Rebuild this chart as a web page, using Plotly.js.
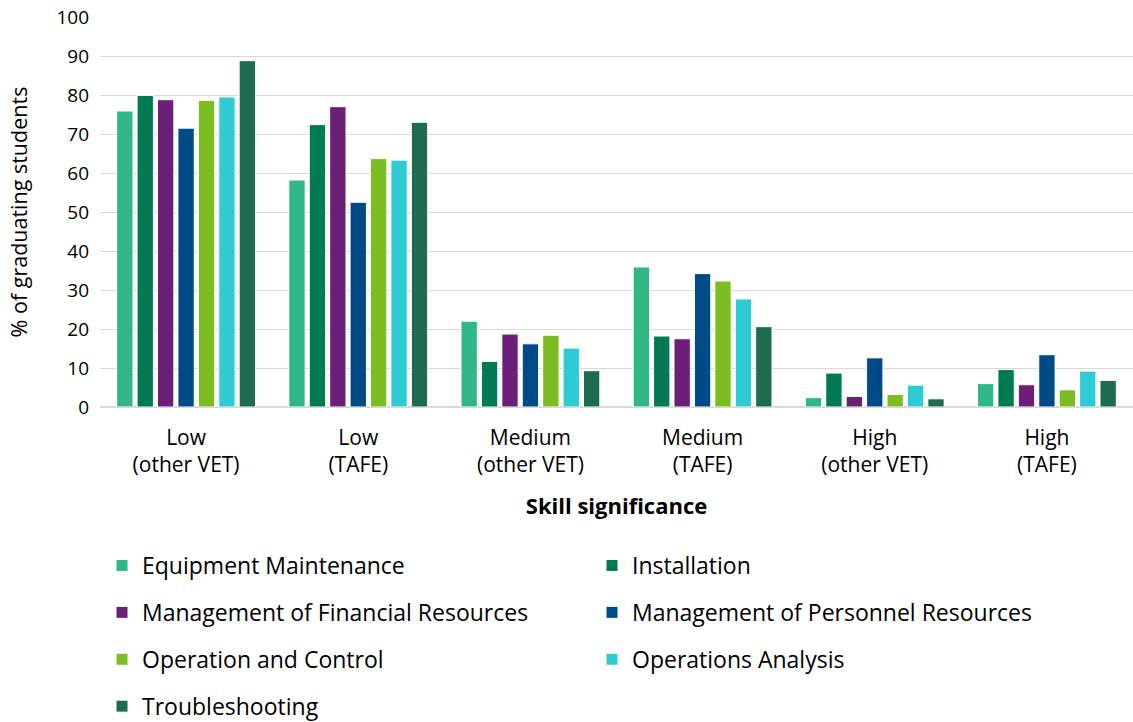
<!DOCTYPE html>
<html><head><meta charset="utf-8">
<script src="https://cdn.plot.ly/plotly-3.0.1.min.js"></script>
<style>html,body{margin:0;background:#fff;overflow:hidden}#chart{width:1133px;height:760px}</style>
</head><body><div id="chart"></div>
<script>
const categories = ["Low<br>(other VET)", "Low<br>(TAFE)", "Medium<br>(other VET)", "Medium<br>(TAFE)", "High<br>(other VET)", "High<br>(TAFE)"];
const seriesNames = ["Equipment Maintenance", "Installation", "Management of Financial Resources", "Management of Personnel Resources", "Operation and Control", "Operations Analysis", "Troubleshooting"];
const equipmentMaintenance = [75.9, 58.2, 22.0, 35.9, 2.4, 6.0];
const installation = [79.9, 72.4, 11.7, 18.2, 8.7, 9.6];
const mgmtFinancial = [78.8, 77.0, 18.7, 17.5, 2.7, 5.7];
const mgmtPersonnel = [71.5, 52.5, 16.2, 34.2, 12.6, 13.4];
const operationControl = [78.6, 63.7, 18.4, 32.3, 3.2, 4.4];
const operationsAnalysis = [79.5, 63.3, 15.1, 27.7, 5.6, 9.2];
const troubleshooting = [88.8, 73.0, 9.3, 20.6, 2.1, 6.8];
const seriesValues = [equipmentMaintenance, installation, mgmtFinancial, mgmtPersonnel, operationControl, operationsAnalysis, troubleshooting];
const colors = ["#2FB886", "#007A53", "#6B1F76", "#004B87", "#7CBD22", "#2ECBD4", "#1D6C50"];

const FONT = "Open Sans, Noto Sans, sans-serif";
const traces = seriesNames.map((name, i) => ({
  type: "bar",
  name: name,
  x: categories,
  y: seriesValues[i],
  marker: {color: colors[i], line: {color: "#ffffff", width: 1}},
  legend: (i % 2 === 0) ? "legend" : "legend2",
  legendgroup: "g" + i,
  hoverinfo: "x+y+name"
}));

// figure is 760 tall (viewport shows top 722); paper area: x 100..1133, y 17..760
const FIG_H = 760, PAPER_H = FIG_H - 17, PAPER_L = 100, PAPER_W = 1033;
const py = (pix) => (FIG_H - pix) / PAPER_H;
const px = (pix) => (pix - PAPER_L) / PAPER_W;

const legendCommon = {
  orientation: "v",
  font: {family: FONT, size: 23, color: "#000"},
  bgcolor: "rgba(0,0,0,0)",
  traceorder: "grouped",
  tracegroupgap: 14,
  itemwidth: 30,
  xanchor: "left",
  yanchor: "top"
};

const layout = {
  width: 1133, height: FIG_H,
  margin: {l: 100, r: 0, t: 17, b: 0},
  paper_bgcolor: "#fff", plot_bgcolor: "#fff",
  font: {family: FONT, color: "#000"},
  barmode: "group",
  bargap: 0.17,
  bargroupgap: 0.2,
  showlegend: true,
  xaxis: {
    type: "category",
    automargin: false,
    tickfont: {family: FONT, size: 21, color: "#000"},
    showgrid: false,
    showline: false,
    ticks: "",
    ticklabelstandoff: 16,
    title: {text: "<b>Skill significance</b>", font: {family: FONT, size: 22, color: "#000"}, standoff: 21}
  },
  yaxis: {
    domain: [py(407), 1],
    range: [0, 100],
    dtick: 10,
    automargin: false,
    tickfont: {family: FONT, size: 19, color: "#000"},
    gridcolor: "#d9d9d9",
    gridwidth: 1,
    zeroline: true,
    zerolinecolor: "#d9d9d9",
    zerolinewidth: 2,
    showline: false,
    ticks: "",
    ticklabelstandoff: 10,
    title: {text: "% of graduating students", font: {family: FONT, size: 21.5, color: "#000"}, standoff: 22}
  },
  legend: Object.assign({}, legendCommon, {x: px(102), y: py(544)}),
  legend2: Object.assign({}, legendCommon, {x: px(592), y: py(544)})
};

Plotly.newPlot("chart", traces, layout, {displayModeBar: false, staticPlot: true});
</script>
</body></html>
